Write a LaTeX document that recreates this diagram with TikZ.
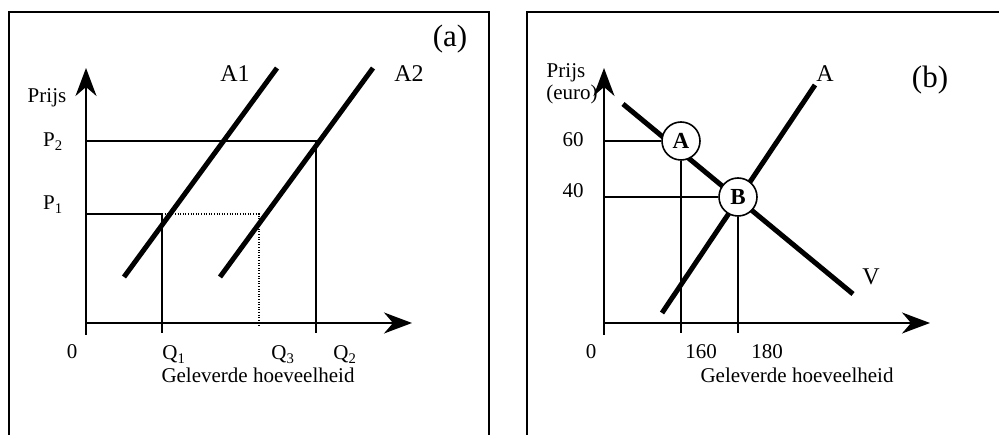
\documentclass[tikz,border=0pt]{standalone}
\usepackage{fontspec}
\setmainfont{Liberation Serif}
\usetikzlibrary{arrows.meta, positioning}

\tikzset{
    frame/.style={line width=2pt},
    axis/.style={line width=2pt, -{Stealth[length=28pt, width=21pt, inset=9pt]}},
    guide/.style={line width=1.4pt},
    dotguide/.style={line width=1.4pt, dash pattern=on 1pt off 1.6pt},
    curve/.style={line width=5pt},
    lbl/.style={font=\fontsize{21}{25}\selectfont, inner sep=0pt, anchor=base},
    biglbl/.style={font=\fontsize{24}{28}\selectfont, inner sep=0pt, anchor=base},
    panel/.style={font=\fontsize{31}{36}\selectfont, inner sep=0pt, anchor=base},
    pt/.style={circle, draw, line width=1.6pt, fill=white, minimum size=38pt,
        inner sep=0pt, font=\fontsize{23}{27}\selectfont\bfseries},
}

\begin{document}
\begin{tikzpicture}[x=1pt, y=-1pt]
\clip (0,0) rectangle (999,435);

% =========================================================
%  LEFT SIDE: supply shift A1 -> A2
% =========================================================
\begin{scope}[shift={(0,0)}]
    % frame (open at the bottom)
    \draw[frame] (9,440) -- (9,12) -- (489,12) -- (489,440);

    % axes
    \coordinate (aybot) at (86,335);
    \coordinate (aytop) at (86,68);
    \coordinate (axorg) at (86,323);
    \coordinate (axend) at (412,323);
    \draw[axis] (aybot) -- (aytop);
    \draw[axis] (axorg) -- (axend);

    % price / quantity levels
    \coordinate (ap2) at (86,141);
    \coordinate (ap1) at (86,214);
    \coordinate (aq2top) at (316,141);
    \coordinate (aq2bot) at (316,333);
    \coordinate (aq1top) at (162,214);
    \coordinate (aq1bot) at (162,333);
    \coordinate (aq3top) at (259,214);
    \coordinate (aq3bot) at (259,327);
    \draw[guide] (ap2) -- (aq2top) -- (aq2bot);
    \draw[guide] (ap1) -- (aq1top) -- (aq1bot);
    \draw[dotguide] (aq1top) -- (aq3top) -- (aq3bot);

    % supply curves
    \coordinate (aa1lo) at (124,277);
    \coordinate (aa1hi) at (277,68);
    \coordinate (aa2lo) at (220,277);
    \coordinate (aa2hi) at (373,68);
    \draw[curve] (aa1lo) -- (aa1hi);
    \draw[curve] (aa2lo) -- (aa2hi);

    % labels
    \node[panel] (atag) at (450,47) {(a)};
    \node[biglbl] (aA1) at (235,82) {A1};
    \node[biglbl] (aA2) at (409,82) {A2};
    \node[lbl] (aprijs) at (47,103) {Prijs};
    \node[lbl] (aP2) at (53,147) {P\textsubscript{2}};
    \node[lbl] (aP1) at (53,210) {P\textsubscript{1}};
    \node[lbl] (azero) at (72,359) {0};
    \node[lbl] (aQ1) at (174,360) {Q\textsubscript{1}};
    \node[lbl] (aQ3) at (283,360) {Q\textsubscript{3}};
    \node[lbl] (aQ2) at (345,360) {Q\textsubscript{2}};
    \node[lbl] (aqty) at (258,383) {Geleverde hoeveelheid};
\end{scope}

% =========================================================
%  RIGHT SIDE: movement along the supply curve
% =========================================================
\begin{scope}[shift={(518,0)}]
    % frame (open at the bottom and right)
    \draw[frame] (9,440) -- (9,12) -- (489,12) -- (489,440);

    % axes
    \coordinate (bybot) at (86,335);
    \coordinate (bytop) at (86,68);
    \coordinate (bxorg) at (86,323);
    \coordinate (bxend) at (412,323);
    \draw[axis] (bybot) -- (bytop);
    \draw[axis] (bxorg) -- (bxend);

    % demand V and supply A
    \coordinate (bvlo) at (105,104);
    \coordinate (bvhi) at (335,294);
    \coordinate (balo) at (144,313);
    \coordinate (bahi) at (297,85);
    \draw[curve] (bvlo) -- (bvhi);
    \draw[curve] (balo) -- (bahi);

    % points A and B
    \node[pt] (ptA) at (163,141) {A};
    \node[pt] (ptB) at (220,197) {B};

    % levels
    \coordinate (b160) at (163,333);
    \coordinate (b180) at (220,333);
    \draw[guide] (ptA.west -| bytop) -- (ptA.west);
    \draw[guide] (ptB.west -| bytop) -- (ptB.west);
    \draw[guide] (ptA.south) -- (b160);
    \draw[guide] (ptB.south) -- (b180);

    % labels
    \node[panel] (btag) at (412,88) {(b)};
    \node[biglbl] (bA) at (307,82) {A};
    \node[biglbl] (bV) at (353,285) {V};
    \node[lbl] (bprijs) at (48,78) {Prijs};
    \node[lbl] (beuro) at (54,100) {(euro)};
    \node[lbl] (bl60) at (55,147) {60};
    \node[lbl] (bl40) at (55,198) {40};
    \node[lbl] (bzero) at (73,359) {0};
    \node[lbl] (bl160) at (183,359) {160};
    \node[lbl] (bl180) at (249,359) {180};
    \node[lbl] (bqty) at (279,383) {Geleverde hoeveelheid};
\end{scope}

\end{tikzpicture}
\end{document}
